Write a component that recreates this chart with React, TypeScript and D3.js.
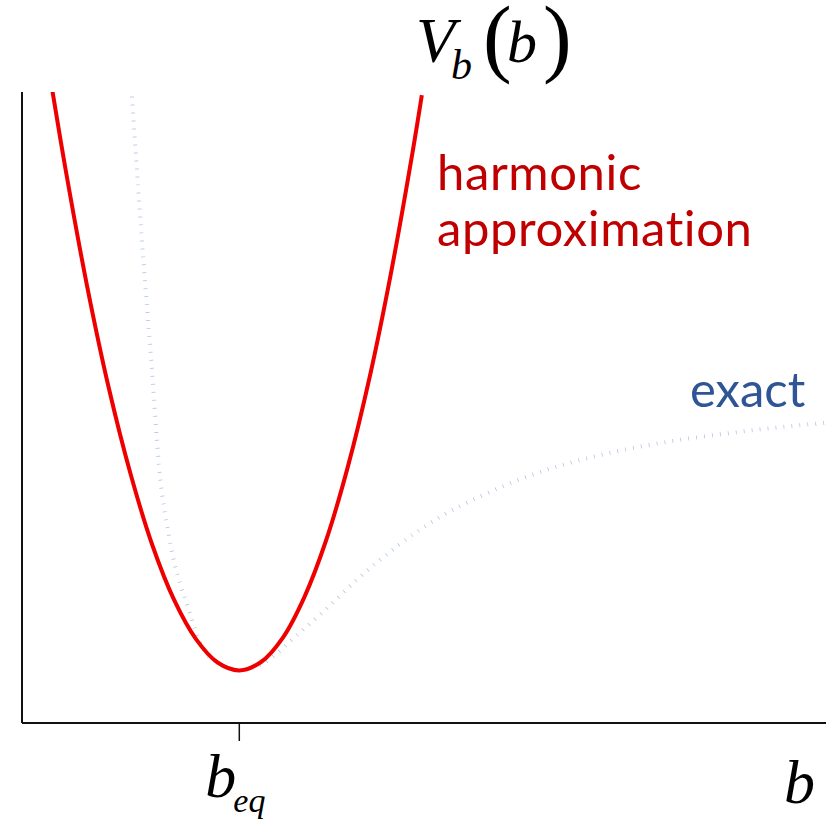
import * as d3 from 'd3';

// bond length values (arbitrary units, b_eq = 1)
const harmonicB = [0.14, 0.2, 0.3, 0.4, 0.5, 0.6, 0.7, 0.8, 0.9, 1.0, 1.1, 1.2, 1.3, 1.4, 1.5, 1.6, 1.7, 1.8, 1.84];
const harmonicV = [12.02, 10.54, 8.3, 6.36, 4.73, 3.38, 2.34, 1.6, 1.15, 1.0, 1.16, 1.62, 2.4, 3.48, 4.88, 6.58, 8.6, 10.92, 11.94];

const exactB = [0.506, 0.561, 0.594, 0.63, 0.681, 0.769, 0.833, 0.92, 1.0, 1.104, 1.27, 1.385, 1.551, 1.924, 2.094, 2.361, 2.646, 2.862, 3.267, 3.7];
const exactV = [11.91, 8.66, 6.96, 4.91, 3.46, 2.13, 1.41, 1.1, 1.0, 1.12, 1.69, 2.11, 2.76, 3.92, 4.28, 4.74, 5.08, 5.27, 5.52, 5.71];

const bEq = 1.0;

const width = 838;
const height = 824;
const margin = { top: 92, right: 12, bottom: 101, left: 22 };

export default function App() {
  const x = d3.scaleLinear().domain([0, 3.7]).range([margin.left, width - margin.right]);
  const y = d3.scaleLinear().domain([0, 12]).range([height - margin.bottom, margin.top]);

  const smooth = d3
    .line<[number, number]>()
    .x((d) => x(d[0]))
    .y((d) => y(d[1]))
    .curve(d3.curveCatmullRom.alpha(0.5));

  const monotone = d3
    .line<[number, number]>()
    .x((d) => x(d[0]))
    .y((d) => y(d[1]))
    .curve(d3.curveMonotoneX);

  const harmonic = harmonicB.map((b, i) => [b, harmonicV[i]] as [number, number]);
  const exact = exactB.map((b, i) => [b, exactV[i]] as [number, number]);

  const x0 = x(0);
  const x1 = x(3.7);
  const y0 = y(0);

  return (
    <svg
      width={width}
      height={height}
      style={{ position: 'absolute', left: 0, top: 0, background: '#fff' }}
    >
      <defs>
        <clipPath id="plot">
          <rect x={x0} y={y(12)} width={x1 - x0} height={y0 - y(12)} />
        </clipPath>
      </defs>

      <g clipPath="url(#plot)">
        <path
          d={monotone(exact) ?? ''}
          fill="none"
          stroke="#a9bedd"
          strokeWidth={4}
          strokeDasharray="0.7 7.3"
        />
        <path d={smooth(harmonic) ?? ''} fill="none" stroke="#ee0000" strokeWidth={4} />
      </g>

      {/* axes */}
      <line x1={x0} x2={x0} y1={y(12)} y2={y0} stroke="#111" strokeWidth={2} />
      <line x1={x0} x2={x1} y1={y0} y2={y0} stroke="#111" strokeWidth={2} />
      <line x1={x(bEq)} x2={x(bEq)} y1={y0} y2={y0 + 18} stroke="#111" strokeWidth={1.5} />

      {/* axis labels */}
      <g fontFamily="'Liberation Serif', 'Times New Roman', serif" fontStyle="italic" fill="#000">
        <text x={x(bEq) - 34} y={797} fontSize={62}>b</text>
        <text x={x(bEq) - 6} y={812} fontSize={34}>eq</text>
        <text x={784} y={803} fontSize={62}>b</text>

        <text x={416} y={62} fontSize={64}>V</text>
        <text x={451} y={79} fontSize={42}>b</text>
        <text x={483} y={66} fontSize={86} fontStyle="normal">(</text>
        <text x={507} y={62} fontSize={60}>b</text>
        <text x={543} y={66} fontSize={86} fontStyle="normal">)</text>
      </g>

      {/* curve labels */}
      <g
        fontFamily="Lato, 'Open Sans', sans-serif"
        fontSize={49}
        style={{ fontVariantLigatures: 'none' }}
      >
        <text x={437} y={190} fill="#c00000" letterSpacing={0.6}>harmonic</text>
        <text x={437} y={246} fill="#c00000" letterSpacing={0.6}>approximation</text>
        <text x={690} y={407} fill="#2f5597">exact</text>
      </g>
    </svg>
  );
}
